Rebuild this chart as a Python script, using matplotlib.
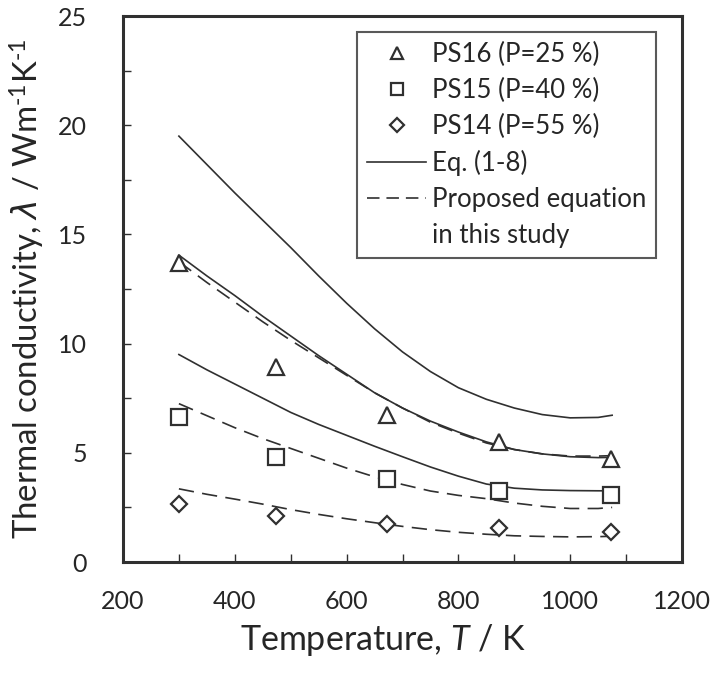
import matplotlib
matplotlib.use("Agg")
import matplotlib.pyplot as plt
from matplotlib.lines import Line2D

plt.rcParams['font.family'] = ['Lato', 'DejaVu Sans']
plt.rcParams['mathtext.fontset'] = 'custom'
plt.rcParams['mathtext.rm'] = 'Lato'
plt.rcParams['mathtext.it'] = 'Lato:italic'
plt.rcParams['mathtext.sf'] = 'DejaVu Sans:italic'
plt.rcParams['mathtext.fallback'] = 'stixsans'
plt.rcParams['lines.scale_dashes'] = False

# ---- data ----
T_meas = [300, 473, 673, 873, 1073]
ps16 = [13.68, 8.94, 6.73, 5.51, 4.70]
ps15 = [6.62, 4.82, 3.80, 3.25, 3.07]
ps14 = [2.66, 2.10, 1.72, 1.54, 1.39]

T_curve = [300, 350, 400, 450, 500, 550, 600, 650, 700, 750, 800, 850, 900, 950, 1000, 1050, 1075]
eq_top = [19.5, 18.2, 16.9, 15.65, 14.4, 13.1, 11.85, 10.68, 9.62, 8.72, 7.98, 7.45, 7.05, 6.75, 6.6, 6.62, 6.72]
eq_ps16 = [14.05, 13.1, 12.2, 11.25, 10.35, 9.45, 8.6, 7.75, 7.05, 6.45, 5.95, 5.5, 5.15, 4.95, 4.82, 4.78, 4.79]
eq_ps15 = [9.5, 8.8, 8.15, 7.5, 6.85, 6.3, 5.8, 5.3, 4.82, 4.35, 3.93, 3.57, 3.38, 3.3, 3.27, 3.26, 3.26]
prop_ps16 = [13.75, 12.8, 11.9, 11.0, 10.15, 9.35, 8.55, 7.75, 7.05, 6.4, 5.9, 5.45, 5.15, 4.95, 4.85, 4.85, 4.87]
prop_ps15 = [7.25, 6.7, 6.15, 5.65, 5.2, 4.75, 4.3, 3.9, 3.55, 3.25, 3.05, 2.9, 2.7, 2.55, 2.45, 2.45, 2.5]
prop_ps14 = [3.35, 3.1, 2.88, 2.65, 2.4, 2.18, 1.98, 1.8, 1.63, 1.48, 1.36, 1.27, 1.2, 1.17, 1.15, 1.16, 1.18]

labels = ['PS16 (P=25 %)', 'PS15 (P=40 %)', 'PS14 (P=55 %)', 'Eq. (1-8)',
          'Proposed equation', 'in this study']

C = '#303030'
TC = '#262626'
fig = plt.figure(figsize=(7.13, 6.75), dpi=100)
ax = fig.add_axes([123/713, 1-562/675, (682-123)/713, (562-16)/675])

lw = 1.2
dash = (11, 6)
for y in (eq_top, eq_ps16, eq_ps15):
    ax.plot(T_curve, y, color=C, lw=lw)
for y in (prop_ps16, prop_ps15, prop_ps14):
    ax.plot(T_curve, y, color=C, lw=lw, linestyle=(0, dash))

mk = dict(linestyle='none', mfc='white', mec=C, mew=1.6)
ax.plot(T_meas, ps16, marker='^', ms=12, **mk)
ax.plot(T_meas, ps15, marker='s', ms=11.5, **mk)
ax.plot(T_meas, ps14, marker='D', ms=8.5, **mk)

ax.set_xlim(200, 1200)
ax.set_ylim(0, 25)
ax.set_xticks([200, 400, 600, 800, 1000, 1200])
ax.set_xticks(range(300, 1200, 200), minor=True)
ax.set_yticks([0, 5, 10, 15, 20, 25])
ax.set_yticks([2.5, 7.5, 12.5, 17.5, 22.5], minor=True)
ax.tick_params(which='both', direction='in', length=6, width=1.0, color=C)
ax.tick_params(axis='x', which='both', pad=20)
ax.tick_params(axis='y', which='both', pad=26)
ax.tick_params(labelsize=18, labelcolor=TC)
for s in ax.spines.values():
    s.set_linewidth(2.2)
    s.set_color(C)

ax.set_xlabel(r'Temperature, $\mathit{T}$ / K', fontsize=24.5, color=TC)
ax.xaxis.set_label_coords((383-123)/559, -(622-562)/546)
ax.set_ylabel(r'Thermal conductivity, $\mathsf{\lambda}$ / Wm$^{\text{-1}}$K$^{\text{-1}}$',
              fontsize=23.7, color=TC, labelpad=8)

handles = [
    Line2D([], [], marker='^', ms=9, **mk),
    Line2D([], [], marker='s', ms=9, **mk),
    Line2D([], [], marker='D', ms=7, **mk),
    Line2D([], [], color=C, lw=lw),
    Line2D([], [], color=C, lw=lw, linestyle=(0, (9, 5))),
    Line2D([], [], linestyle='none'),
]
leg = ax.legend(handles, labels, loc='upper left', bbox_to_anchor=((357-123)/559, 1-(32-16)/546),
                borderaxespad=0, fontsize=18.5, frameon=True, fancybox=False,
                edgecolor=C, handlelength=2.3, handletextpad=0.2, labelspacing=0.42,
                borderpad=0.4)
leg.get_frame().set_linewidth(1.5)
for t in leg.get_texts():
    t.set_color(TC)

fig.savefig('out.png', dpi=100)
